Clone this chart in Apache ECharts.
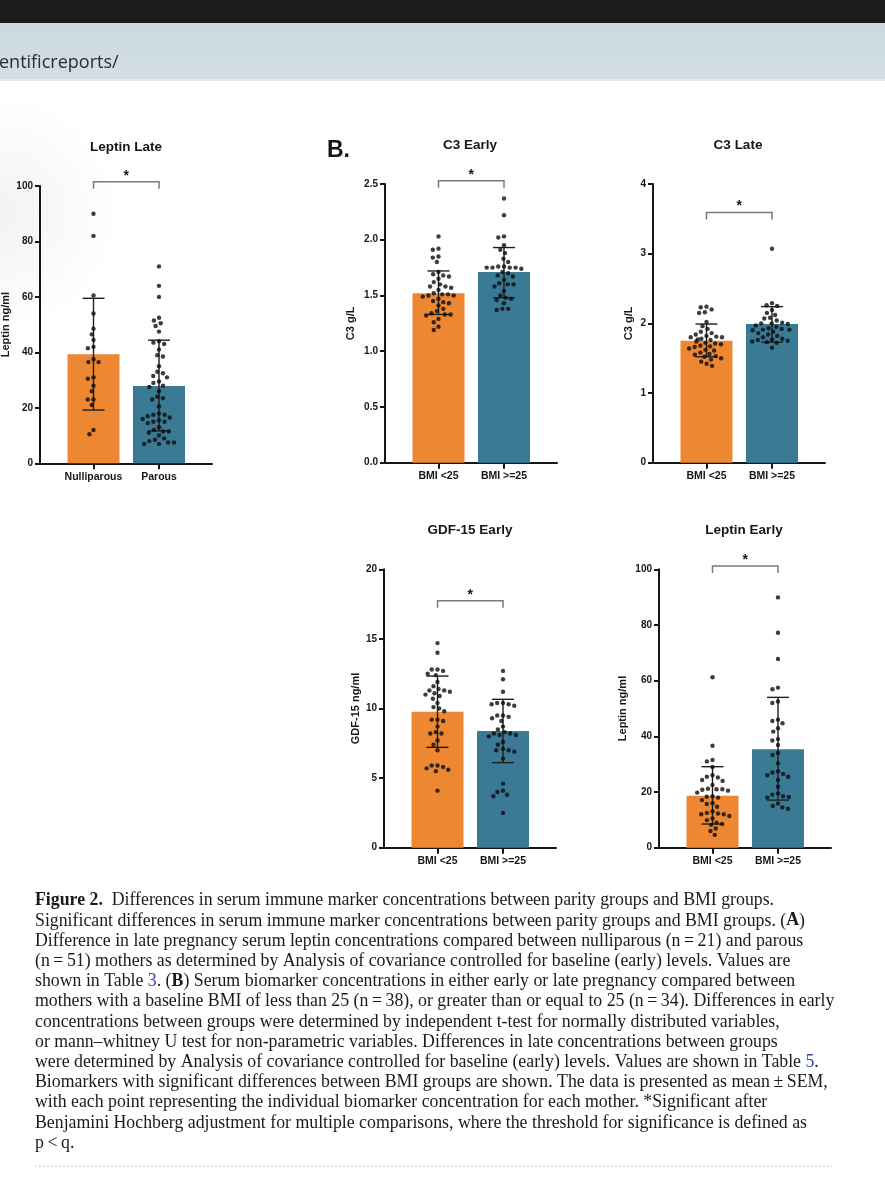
<!DOCTYPE html>
<html>
<head>
<meta charset="utf-8">
<script src="https://cdn.jsdelivr.net/npm/echarts@6.0.0/dist/echarts.min.js"></script>
<style>
  html, body { margin: 0; padding: 0; background: #fff; }
  #chart { width: 885px; height: 1200px; }
</style>
</head>
<body>
<div id="chart"></div>
<script>
// ---- data ----
const parityGroups = ['Nulliparous', 'Parous'];
const bmiGroups = ['BMI <25', 'BMI >=25'];

// Leptin Late (ng/ml), nulliparous n=21, parous n=51
const leptinLateNulli = [90, 82, 60.5, 54, 48.5, 46.5, 44.5, 42, 41.5, 37.5, 36.5, 36.5, 31, 30.5, 28, 26, 23, 23, 21, 12, 10.5];
const leptinLateParous = [71, 64, 60, 52.5, 51.5, 50.5, 49.5, 47.5, 44, 43.5, 43, 41, 39, 38.5, 35, 33, 32.5, 31.5, 31, 29.5,
  29, 28, 27.5, 26, 24, 23.5, 23, 20.5, 18, 17.5, 17.5, 17, 16.5, 16, 15.5, 15, 15, 14.5, 13, 12, 11.5, 11.5, 11, 10, 9, 8.5,
  8, 7.5, 7.5, 7, 7];
const leptinLateMean = [39.3, 27.9];
const leptinLateErr = [[19.2, 59.5], [11.7, 44.4]];

// C3 Early (g/L)
const c3EarlyLow = [2.03, 1.92, 1.91, 1.85, 1.84, 1.80, 1.71, 1.69, 1.68, 1.67, 1.65, 1.62, 1.60, 1.58, 1.58, 1.57, 1.55, 1.52,
  1.51, 1.51, 1.50, 1.50, 1.49, 1.47, 1.45, 1.44, 1.43, 1.41, 1.38, 1.36, 1.34, 1.33, 1.33, 1.32, 1.29, 1.26, 1.22, 1.19];
const c3EarlyHigh = [2.37, 2.22, 2.03, 2.02, 1.95, 1.91, 1.88, 1.83, 1.80, 1.76, 1.76, 1.75, 1.75, 1.75, 1.75, 1.74, 1.71,
  1.70, 1.68, 1.67, 1.64, 1.61, 1.60, 1.60, 1.58, 1.54, 1.50, 1.48, 1.47, 1.46, 1.43, 1.38, 1.38, 1.37];
const c3EarlyMean = [1.52, 1.71];
const c3EarlyErr = [[1.33, 1.72], [1.48, 1.93]];

// C3 Late (g/L)
const c3LateLow = [2.24, 2.23, 2.20, 2.16, 2.15, 2.02, 1.96, 1.92, 1.88, 1.86, 1.84, 1.82, 1.81, 1.80, 1.80, 1.78, 1.77, 1.76,
  1.74, 1.72, 1.71, 1.70, 1.68, 1.67, 1.66, 1.64, 1.62, 1.61, 1.58, 1.56, 1.55, 1.53, 1.52, 1.50, 1.48, 1.45, 1.42, 1.39];
const c3LateHigh = [3.07, 2.29, 2.26, 2.25, 2.19, 2.15, 2.12, 2.08, 2.07, 2.04, 2.01, 2.00, 2.00, 1.99, 1.97, 1.95, 1.93, 1.92,
  1.91, 1.91, 1.90, 1.88, 1.86, 1.84, 1.82, 1.80, 1.78, 1.77, 1.76, 1.75, 1.74, 1.73, 1.72, 1.65];
const c3LateMean = [1.75, 1.99];
const c3LateErr = [[1.52, 1.99], [1.73, 2.24]];

// GDF-15 Early (ng/ml)
const gdfEarlyLow = [14.7, 14.0, 12.8, 12.8, 12.7, 12.5, 12.4, 11.9, 11.6, 11.4, 11.3, 11.3, 11.2, 11.1, 11.0, 10.9, 10.7, 10.4,
  10.1, 10.0, 9.8, 9.2, 9.2, 9.1, 8.7, 8.3, 8.2, 8.2, 7.7, 7.4, 7.0, 5.9, 5.9, 5.8, 5.7, 5.6, 5.5, 4.1];
const gdfEarlyHigh = [12.7, 12.1, 11.2, 10.4, 10.4, 10.3, 10.3, 10.2, 9.5, 9.5, 9.4, 9.3, 9.1, 8.7, 8.5, 8.3, 8.2, 8.2, 8.1,
  8.1, 8.0, 7.6, 7.4, 7.1, 7.0, 7.0, 6.9, 6.4, 4.6, 4.1, 4.0, 3.8, 3.7, 2.5];
const gdfEarlyMean = [9.77, 8.38];
const gdfEarlyErr = [[7.21, 12.33], [6.11, 10.66]];

// Leptin Early (ng/ml)
const leptinEarlyLow = [61.2, 36.6, 31.5, 31.0, 29.0, 26.0, 25.5, 25.2, 24.3, 24.0, 22.5, 21.2, 21.0, 21.0, 20.8, 20.5, 19.8,
  18.5, 18.3, 18.0, 17.1, 16.0, 15.7, 14.7, 13.0, 12.5, 12.3, 12.0, 12.0, 11.4, 10.5, 9.9, 9.0, 8.5, 8.2, 6.9, 6.0, 4.6];
const leptinEarlyHigh = [89.9, 77.2, 67.8, 57.5, 56.9, 52.5, 52.0, 46.0, 45.5, 44.7, 42.9, 41.7, 39.0, 38.5, 36.9, 34.0, 33.3,
  30.3, 27.5, 27.0, 26.5, 26.0, 25.5, 24.3, 21.9, 19.5, 19.0, 18.5, 18.2, 18.0, 15.9, 15.0, 14.5, 14.0];
const leptinEarlyMean = [18.7, 35.4];
const leptinEarlyErr = [[8.5, 29.1], [17.1, 54.0]];

// caption lines as printed
const captionLines = [
  '{b|Figure 2.}  Differences in serum immune marker concentrations between parity groups and BMI groups.',
  'Significant differences in serum immune marker concentrations between parity groups and BMI groups. ({b|A})',
  'Difference in late pregnancy serum leptin concentrations compared between nulliparous (n\u2009=\u200921) and parous',
  '(n\u2009=\u200951) mothers as determined by Analysis of covariance controlled for baseline (early) levels. Values are',
  'shown in Table {l|3}. ({b|B}) Serum biomarker concentrations in either early or late pregnancy compared between',
  'mothers with a baseline BMI of less than 25 (n\u2009=\u200938), or greater than or equal to 25 (n\u2009=\u200934). Differences in early',
  'concentrations between groups were determined by independent t-test for normally distributed variables,',
  'or mann\u2013whitney U test for non-parametric variables. Differences in late concentrations between groups',
  'were determined by Analysis of covariance controlled for baseline (early) levels. Values are shown in Table {l|5}.',
  'Biomarkers with significant differences between BMI groups are shown. The data is presented as mean\u2009\u00b1\u2009SEM,',
  'with each point representing the individual biomarker concentration for each mother. *Significant after',
  'Benjamini Hochberg adjustment for multiple comparisons, where the threshold for significance is defined as',
  'p\u2009<\u2009q.'
];

// ---- layout / style ----
const barColors = ['#ee8732', '#3a7a95'];
const ink = '#161616';
const ff = '"Liberation Sans", Arial, sans-serif';
const serif = '"Liberation Serif", serif';
const capSize = 17.8;

const panels = [
  { title: 'Leptin Late', yName: 'Leptin ng/ml', cats: parityGroups, groups: [leptinLateNulli, leptinLateParous],
    mean: leptinLateMean, err: leptinLateErr, yMax: 100, yStep: 20, sig: 101.5, dec: 0,
    axisX: 40, top: 186, bottom: 463.3, titleX: 126, titleY: 147, nameGap: 29 },
  { title: 'C3 Early', yName: 'C3 g/L', cats: bmiGroups, groups: [c3EarlyLow, c3EarlyHigh],
    mean: c3EarlyMean, err: c3EarlyErr, yMax: 2.5, yStep: 0.5, sig: 2.53, dec: 1,
    axisX: 385, top: 184, bottom: 462.7, titleX: 470, titleY: 145, nameGap: 29 },
  { title: 'C3 Late', yName: 'C3 g/L', cats: bmiGroups, groups: [c3LateLow, c3LateHigh],
    mean: c3LateMean, err: c3LateErr, yMax: 4, yStep: 1, sig: 3.59, dec: 0,
    axisX: 653, top: 184, bottom: 462.7, titleX: 738, titleY: 145, nameGap: 19 },
  { title: 'GDF-15 Early', yName: 'GDF-15 ng/ml', cats: bmiGroups, groups: [gdfEarlyLow, gdfEarlyHigh],
    mean: gdfEarlyMean, err: gdfEarlyErr, yMax: 20, yStep: 5, sig: 17.74, dec: 0,
    axisX: 384, top: 569.3, bottom: 847.7, titleX: 470, titleY: 530.7, nameGap: 23 },
  { title: 'Leptin Early', yName: 'Leptin ng/ml', cats: bmiGroups, groups: [leptinEarlyLow, leptinEarlyHigh],
    mean: leptinEarlyMean, err: leptinEarlyErr, yMax: 100, yStep: 20, sig: 101.2, dec: 0,
    axisX: 659, top: 569.3, bottom: 847.7, titleX: 744, titleY: 530.7, nameGap: 31 }
];

const chart = echarts.init(document.getElementById('chart'));

const grids = [], xAxes = [], yAxes = [], series = [], graphics = [];

// page chrome: browser bar, journal banner, soft page shading
graphics.push(
  { type: 'rect', shape: { x: 0, y: 0, width: 885, height: 23 }, style: { fill: '#1c1a1c' }, z: -10 },
  { type: 'rect', shape: { x: 0, y: 23, width: 885, height: 57 }, z: -10,
    style: { fill: new echarts.graphic.LinearGradient(0, 0, 0, 1, [
      { offset: 0, color: '#cbd8df' }, { offset: 1, color: '#d3dfe5' }]) } },
  { type: 'rect', shape: { x: 0, y: 79, width: 885, height: 2 }, style: { fill: '#e3eaee' }, z: -10 },
  { type: 'rect', shape: { x: 0, y: 81, width: 240, height: 440 }, z: -10,
    style: { fill: new echarts.graphic.RadialGradient(0, 0.3, 0.5, [
      { offset: 0, color: 'rgba(0,0,0,0.05)' }, { offset: 1, color: 'rgba(0,0,0,0)' }]) } },
  { type: 'text', x: -1, y: 63, style: { text: 'entificreports/', fill: '#2b2b2b',
    font: '18px "Open Sans", sans-serif', textVerticalAlign: 'middle' } },
  { type: 'text', x: 327, y: 151, style: { text: 'B.', fill: ink,
    font: 'bold 23px ' + ff, textVerticalAlign: 'middle' } }
);

panels.forEach((p, k) => {
  const fg = 2 * k, dg = 2 * k + 1;
  const height = p.bottom - p.top;

  // frame grid carries the long GraphPad-style axis lines, data grid carries the marks
  grids.push({ left: p.axisX, top: p.top, width: 172, height, outerBoundsMode: 'none' });
  grids.push({ left: p.axisX + 20.75, top: p.top, width: 131, height, outerBoundsMode: 'none' });

  xAxes.push({
    gridIndex: fg, type: 'value', min: 0, max: 1,
    axisLine: { show: true, onZero: false, lineStyle: { color: ink, width: 2 } },
    axisTick: { show: false }, axisLabel: { show: false }, splitLine: { show: false }
  });
  xAxes.push({
    gridIndex: dg, type: 'category', data: p.cats,
    jitter: 40, jitterOverlap: false, jitterMargin: 1.4,
    axisLine: { show: false },
    axisTick: { show: true, alignWithLabel: true, length: 6, lineStyle: { color: ink, width: 2 } },
    axisLabel: { interval: 0, hideOverlap: false, color: ink, fontFamily: ff, fontWeight: 'bold', fontSize: 10.5, margin: 8 },
    splitLine: { show: false }
  });

  yAxes.push({
    gridIndex: fg, type: 'value', min: 0, max: p.yMax, interval: p.yStep,
    name: p.yName, nameLocation: 'middle', nameGap: p.nameGap, nameMoveOverlap: false,
    nameTextStyle: { color: ink, fontFamily: ff, fontWeight: 'bold', fontSize: 11 },
    axisLine: { show: true, lineStyle: { color: ink, width: 2 } },
    axisTick: { show: true, length: 5, lineStyle: { color: ink, width: 2 } },
    axisLabel: { color: ink, fontFamily: ff, fontWeight: 'bold', fontSize: 10, margin: 7,
      formatter: v => v.toFixed(p.dec) },
    splitLine: { show: false }
  });
  yAxes.push({ gridIndex: dg, type: 'value', min: 0, max: p.yMax, show: false });

  series.push({
    type: 'bar', xAxisIndex: dg, yAxisIndex: dg, barWidth: 52, z: 2, silent: true,
    data: p.mean.map((m, i) => ({ value: m, itemStyle: { color: barColors[i] } }))
  });

  series.push({
    type: 'custom', xAxisIndex: dg, yAxisIndex: dg, z: 3, clip: false, silent: true,
    encode: { x: 0, y: [1, 2] },
    data: p.err.map((e, i) => [i, e[0], e[1]]),
    renderItem: (params, api) => {
      const i = api.value(0);
      const lo = api.coord([i, api.value(1)]);
      const hi = api.coord([i, api.value(2)]);
      const half = 11;
      const st = { stroke: '#1e1e1e', lineWidth: 1.4 };
      return { type: 'group', children: [
        { type: 'line', shape: { x1: lo[0], y1: lo[1], x2: hi[0], y2: hi[1] }, style: st },
        { type: 'line', shape: { x1: lo[0] - half, y1: lo[1], x2: lo[0] + half, y2: lo[1] }, style: st },
        { type: 'line', shape: { x1: hi[0] - half, y1: hi[1], x2: hi[0] + half, y2: hi[1] }, style: st }
      ] };
    }
  });

  series.push({
    type: 'scatter', xAxisIndex: dg, yAxisIndex: dg, z: 4, silent: true,
    symbol: 'circle', symbolSize: 4.4, itemStyle: { color: '#0c0c0c' },
    data: p.groups.flatMap((vals, i) => vals.map(v => [i, v]))
  });

  series.push({
    type: 'custom', xAxisIndex: dg, yAxisIndex: dg, z: 4, clip: false, silent: true,
    encode: { x: [0, 1], y: 2 },
    data: [[0, 1, p.sig]],
    renderItem: (params, api) => {
      const a = api.coord([api.value(0), api.value(2)]);
      const b = api.coord([api.value(1), api.value(2)]);
      return { type: 'group', children: [
        { type: 'polyline', shape: { points: [[a[0], a[1] + 7], a, b, [b[0], b[1] + 7]] },
          style: { stroke: '#7a7a7a', lineWidth: 1.5, fill: null } },
        { type: 'text', x: (a[0] + b[0]) / 2, y: a[1] - 6,
          style: { text: '*', fill: ink, font: 'bold 14px ' + ff, textAlign: 'center', textVerticalAlign: 'middle' } }
      ] };
    }
  });

  graphics.push({ type: 'text', x: p.titleX, y: p.titleY,
    style: { text: p.title, fill: ink, font: 'bold 13.5px ' + ff, textAlign: 'center', textVerticalAlign: 'middle' } });
});

// caption
captionLines.forEach((line, i) => {
  graphics.push({ type: 'text', x: 35, y: 900.7 + i * 20.2,
    style: { text: line, fill: '#1a1a1a', font: capSize + 'px ' + serif, textVerticalAlign: 'middle',
      rich: {
        b: { fontWeight: 'bold', fontFamily: serif, fontSize: capSize, fill: '#1a1a1a' },
        l: { fontFamily: serif, fontSize: capSize, fill: '#3646a8' }
      } } });
});
graphics.push({ type: 'line', shape: { x1: 35, y1: 1166, x2: 835, y2: 1166 },
  style: { stroke: '#cfcfcf', lineWidth: 1.5, lineDash: [1.5, 2.5] } });

chart.setOption({
  backgroundColor: '#ffffff',
  animation: false,
  grid: grids,
  xAxis: xAxes,
  yAxis: yAxes,
  series: series,
  graphic: graphics
});
</script>
</body>
</html>
